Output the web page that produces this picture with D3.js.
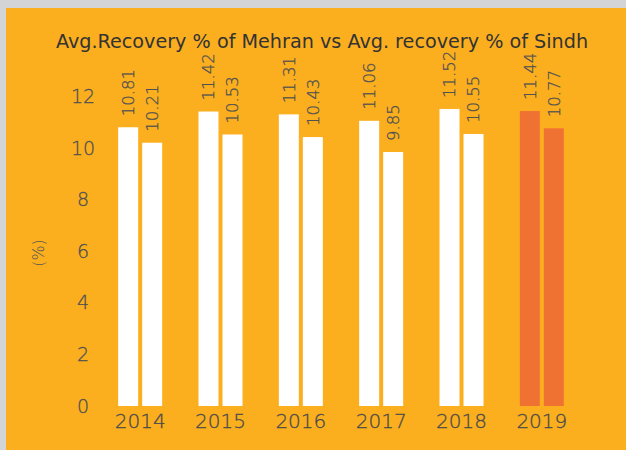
<!DOCTYPE html>
<html>
<head>
<meta charset="utf-8">
<script src="https://cdn.jsdelivr.net/npm/d3@7"></script>
<style>
  body { margin: 0; background: #d3d4d6; }
  svg { display: block; }
  text { font-family: "DejaVu Sans", sans-serif; font-weight: 200; }
</style>
</head>
<body>
<div id="container"></div>
<script>
// data
const years = ["2014", "2015", "2016", "2017", "2018", "2019"];
const mehran = [10.81, 11.42, 11.31, 11.06, 11.52, 11.44];
const sindh = [10.21, 10.53, 10.43, 9.85, 10.55, 10.77];
const series = ["mehran", "sindh"];
const yTicks = [0, 2, 4, 6, 8, 10, 12];
const highlightYear = "2019";

const width = 626;
const height = 450;

const svg = d3
  .select("#container")
  .append("svg")
  .attr("width", width)
  .attr("height", height);

// orange panel, grey frame shows at top and left
svg
  .append("rect")
  .attr("x", 6)
  .attr("y", 8)
  .attr("width", width - 6)
  .attr("height", height - 8)
  .attr("fill", "#fbaf1f");

svg
  .append("text")
  .attr("x", 322)
  .attr("y", 48)
  .attr("text-anchor", "middle")
  .attr("font-size", 19.2)
  .attr("fill", "#333")
  .style("font-weight", 400)
  .text("Avg.Recovery % of Mehran vs Avg. recovery % of Sindh");

// scales
const x0 = d3.scaleBand().domain(years).range([100, 582]).padding(0);
const x1 = d3
  .scaleBand()
  .domain(series)
  .range([x0.bandwidth() / 2 - 22, x0.bandwidth() / 2 + 22])
  .paddingInner(1 / 6);
const y = d3.scaleLinear().domain([0, 14]).range([406, 45]);

const rows = years.map((yr, i) => ({ year: yr, mehran: mehran[i], sindh: sindh[i] }));

// y axis, labels only
const yAxis = d3.axisLeft(y).tickValues(yTicks).tickSize(0).tickPadding(0);
const gy = svg.append("g").attr("transform", "translate(91,0)").call(yAxis);
gy.select(".domain").remove();
gy.selectAll("text")
  .attr("x", -8)
  .attr("text-anchor", "middle")
  .attr("font-family", null)
  .attr("font-size", 19)
  .attr("fill", "#505050")
  .attr("stroke", "#505050")
  .attr("stroke-width", 0.3);

// x axis, labels only
const xAxis = d3.axisBottom(x0).tickSize(0).tickPadding(0);
const gx = svg.append("g").attr("transform", "translate(0,406)").call(xAxis);
gx.select(".domain").remove();
gx.selectAll("text")
  .attr("y", 15)
  .attr("dy", "0.35em")
  .attr("font-family", null)
  .attr("font-size", 20)
  .attr("fill", "#4a4a4a")
  .attr("stroke", "#4a4a4a")
  .attr("stroke-width", 0.3);

svg
  .append("text")
  .attr("transform", "translate(38,253) rotate(-90)")
  .attr("text-anchor", "middle")
  .attr("dy", "0.35em")
  .attr("font-size", 16)
  .attr("fill", "#555")
  .text("(%)");

// bars
const groups = svg
  .selectAll(".grp")
  .data(rows)
  .enter()
  .append("g")
  .attr("class", "grp")
  .attr("transform", (d) => `translate(${x0(d.year)},0)`);

const cells = groups
  .selectAll(".bar")
  .data((d) => series.map((s) => ({ year: d.year, key: s, value: d[s] })))
  .enter();

cells
  .append("rect")
  .attr("class", "bar")
  .attr("x", (d) => x1(d.key))
  .attr("y", (d) => y(d.value))
  .attr("width", x1.bandwidth())
  .attr("height", (d) => y(0) - y(d.value))
  .attr("fill", (d) => (d.year === highlightYear ? "#f07233" : "#ffffff"));

cells
  .append("text")
  .attr(
    "transform",
    (d) => `translate(${x1(d.key) + x1.bandwidth() / 2},${y(d.value) - 11}) rotate(-90)`
  )
  .attr("dy", "0.35em")
  .attr("font-size", 16.5)
  .attr("fill", "#505050")
  .attr("stroke", "#505050")
  .attr("stroke-width", 0.3)
  .text((d) => d3.format(".2f")(d.value));
</script>
</body>
</html>
